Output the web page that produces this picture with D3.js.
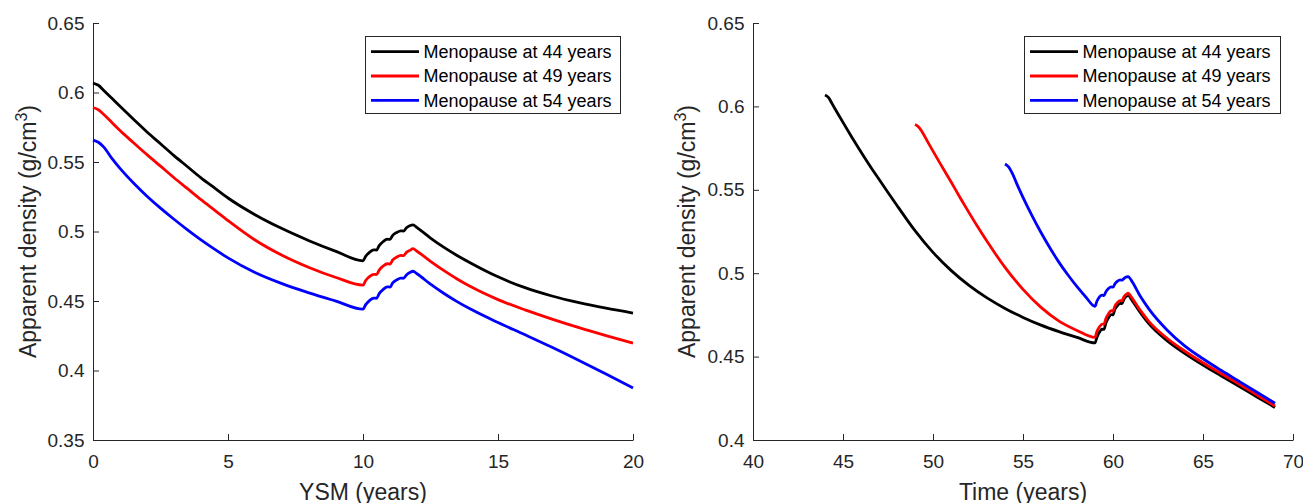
<!DOCTYPE html>
<meta charset="utf-8">
<style>
  body { margin: 0; background: #fff; }
  svg text { font-family: "Liberation Sans", Arial, sans-serif; }
  .axis path, .axis line { stroke: #262626; stroke-width: 1; }
  .axis text { font-size: 19px; fill: #262626; }
  .label { font-size: 23px; fill: #262626; }
  .legend text { font-size: 18px; fill: #000; }
</style>
<body>
<div id="chart"></div>
<script src="https://d3js.org/d3.v7.min.js"></script>
<script>
// ---- left panel: density vs years since menopause ----
const ysm = [0, 0.2, 0.4, 0.7, 1, 1.5, 2, 2.5, 3, 3.5, 4, 4.5, 5, 6, 7, 8, 9, 10,
  10.1, 10.25, 10.4, 10.5, 10.6, 10.75, 10.9, 11, 11.1, 11.25, 11.4, 11.5, 11.6, 11.75, 11.85, 12,
  12.5, 13, 13.5, 14, 15, 16, 17, 18, 19, 20]
const ysm44 = [0.6068, 0.6052, 0.6015, 0.5958, 0.5901, 0.5808, 0.5716, 0.5631, 0.5546, 0.5466, 0.5386, 0.5313, 0.5241, 0.5121, 0.5021, 0.4934, 0.4857, 0.4789,
  0.4822, 0.4852, 0.4868, 0.4866, 0.4898, 0.4928, 0.4945, 0.4943, 0.4972, 0.4993, 0.5005, 0.5003, 0.5025, 0.5043, 0.5048, 0.5028,
  0.4953, 0.4886, 0.4826, 0.4772, 0.4674, 0.4596, 0.4536, 0.4488, 0.4448, 0.4413]
const ysm49 = [0.5892, 0.5876, 0.5842, 0.5784, 0.5726, 0.5639, 0.5553, 0.547, 0.5387, 0.5308, 0.5229, 0.5154, 0.5079, 0.4939, 0.4829, 0.4741, 0.4669, 0.4614,
  0.4647, 0.4677, 0.4692, 0.469, 0.4722, 0.4752, 0.4768, 0.4766, 0.4795, 0.4816, 0.4828, 0.4826, 0.4848, 0.4866, 0.4877, 0.4858,
  0.4785, 0.4718, 0.4657, 0.4602, 0.451, 0.4436, 0.437, 0.4308, 0.4251, 0.4197]
const ysm54 = [0.5658, 0.5642, 0.5607, 0.5526, 0.5454, 0.5349, 0.5254, 0.5168, 0.5088, 0.5012, 0.494, 0.4873, 0.481, 0.4705, 0.4625, 0.4559, 0.4499, 0.4441,
  0.4474, 0.4505, 0.4521, 0.4519, 0.4553, 0.4584, 0.4602, 0.46, 0.463, 0.4652, 0.4665, 0.4663, 0.4686, 0.4706, 0.4714, 0.4696,
  0.4621, 0.4554, 0.4494, 0.444, 0.4345, 0.4257, 0.4167, 0.4072, 0.3974, 0.3874]

// ---- right panel: density vs age ----
const time44 = [44, 44.2, 44.4, 44.7, 45, 45.5, 46, 46.5, 47, 47.5, 48, 48.5, 49, 50, 51, 52, 53, 54, 55, 56, 57, 58, 59,
  59.1, 59.25, 59.4, 59.5, 59.6, 59.75, 59.9, 60, 60.1, 60.25, 60.4, 60.5, 60.6, 60.75, 60.85, 61,
  61.5, 62, 63, 64, 65, 66, 67, 68, 69]
const dens44 = [0.6068, 0.6052, 0.6015, 0.5959, 0.5904, 0.5814, 0.5727, 0.5643, 0.5563, 0.5484, 0.5406, 0.5329, 0.5255, 0.5125, 0.5017, 0.4927, 0.4852, 0.4789, 0.4735, 0.4689, 0.465, 0.4615, 0.4582,
  0.4613, 0.4647, 0.4664, 0.4663, 0.4699, 0.4733, 0.4752, 0.475, 0.4782, 0.4806, 0.4819, 0.4817, 0.4842, 0.4862, 0.4868, 0.4846,
  0.4766, 0.4696, 0.4596, 0.4518, 0.4449, 0.4385, 0.4322, 0.4258, 0.4195]
const time49 = [49, 49.2, 49.4, 49.7, 50, 50.5, 51, 51.5, 52, 52.5, 53, 53.5, 54, 55, 56, 57, 58, 59,
  59.1, 59.25, 59.4, 59.5, 59.6, 59.75, 59.9, 60, 60.1, 60.25, 60.4, 60.5, 60.6, 60.75, 60.85, 61,
  61.5, 62, 63, 64, 65, 66, 67, 68, 69]
const dens49 = [0.5891, 0.5877, 0.5847, 0.5789, 0.5732, 0.5639, 0.5548, 0.5454, 0.5363, 0.5275, 0.5191, 0.5111, 0.5035, 0.4903, 0.4795, 0.4713, 0.4657, 0.4615,
  0.4649, 0.4679, 0.4695, 0.4694, 0.4727, 0.4757, 0.4775, 0.4773, 0.4802, 0.4824, 0.4836, 0.4834, 0.4857, 0.4875, 0.488, 0.486,
  0.478, 0.471, 0.461, 0.4532, 0.4463, 0.4399, 0.4336, 0.427, 0.4204]
const time54 = [54, 54.2, 54.4, 54.7, 55, 55.5, 56, 56.5, 57, 57.5, 58, 58.5, 59,
  59.1, 59.25, 59.4, 59.5, 59.6, 59.75, 59.9, 60, 60.1, 60.25, 60.4, 60.5, 60.6, 60.75, 60.85, 61,
  61.5, 62, 63, 64, 65, 66, 67, 68, 69]
const dens54 = [0.5655, 0.5637, 0.56, 0.5525, 0.5455, 0.5345, 0.5244, 0.5151, 0.5065, 0.4989, 0.4919, 0.4856, 0.4801,
  0.483, 0.4858, 0.4868, 0.4866, 0.4888, 0.4908, 0.4918, 0.4916, 0.4935, 0.4952, 0.496, 0.4958, 0.4968, 0.4978, 0.498, 0.496,
  0.4865, 0.4785, 0.466, 0.4563, 0.4487, 0.4418, 0.4352, 0.4286, 0.422]

const names = ['Menopause at 44 years', 'Menopause at 49 years', 'Menopause at 54 years']
const colors = ['#000000', '#ff0000', '#0000ff']

const ysmTicks = [0, 5, 10, 15, 20]
const timeTicks = [40, 45, 50, 55, 60, 65, 70]
const leftDensTicks = [0.35, 0.4, 0.45, 0.5, 0.55, 0.6, 0.65]
const rightDensTicks = [0.4, 0.45, 0.5, 0.55, 0.6, 0.65]

const svg = d3.select('#chart')
  .append('svg')
  .attr('width', 1303)
  .attr('height', 503)

function panel(opt) {
  const width = 540, height = 417
  const g = svg.append('g').attr('transform', `translate(${opt.left}, 23)`)

  const x = d3.scaleLinear().domain(opt.xDomain).range([0, width])
  const y = d3.scaleLinear().domain(opt.yDomain).range([height, 0])

  g.append('g')
    .attr('class', 'axis')
    .attr('transform', `translate(0, ${height})`)
    .call(d3.axisBottom(x).tickValues(opt.xTicks).tickSize(-6).tickSizeOuter(0).tickPadding(14.5).tickFormat(d => String(d)))

  g.append('g')
    .attr('class', 'axis')
    .call(d3.axisLeft(y).tickValues(opt.yTicks).tickSize(-6).tickSizeOuter(0).tickPadding(8.5).tickFormat(d => String(d)))

  const line = d3.line()
    .x(d => x(d[0]))
    .y(d => y(d[1]))
    .curve(d3.curveMonotoneX)

  opt.series.forEach((s, i) => {
    g.append('path')
      .datum(d3.zip(s.x, s.y))
      .attr('fill', 'none')
      .attr('stroke', colors[i])
      .attr('stroke-width', 2.8)
      .attr('stroke-linejoin', 'round')
      .attr('d', line)
  })

  // axis titles
  g.append('text')
    .attr('class', 'label')
    .attr('text-anchor', 'middle')
    .attr('x', width / 2)
    .attr('y', 477)
    .text(opt.xLabel)

  const yl = g.append('text')
    .attr('class', 'label')
    .attr('text-anchor', 'middle')
    .attr('transform', `translate(${opt.yLabelX}, ${height / 2}) rotate(-90)`)
  yl.append('tspan').text('Apparent density (g/cm')
  yl.append('tspan').attr('dy', -9).style('font-size', '16px').text('3')
  yl.append('tspan').attr('dy', 9).text(')')

  // legend
  const lg = g.append('g')
    .attr('class', 'legend')
    .attr('transform', `translate(${width - 12.5 - opt.legendW}, 13.5)`)
  lg.append('rect')
    .attr('width', opt.legendW)
    .attr('height', 77)
    .attr('fill', '#fff')
    .attr('stroke', '#262626')
    .attr('stroke-width', 1)
  names.forEach((n, i) => {
    const yy = 15.2 + i * 24.3
    lg.append('line')
      .attr('x1', 5.5).attr('x2', 53.5)
      .attr('y1', yy).attr('y2', yy)
      .attr('stroke', colors[i])
      .attr('stroke-width', 2.8)
    lg.append('text')
      .attr('x', 58)
      .attr('y', yy)
      .attr('dy', '0.35em')
      .text(n)
  })
}

panel({
  left: 93,
  xDomain: [0, 20], yDomain: [0.35, 0.65],
  xTicks: ysmTicks, yTicks: leftDensTicks,
  xLabel: 'YSM (years)', yLabelX: -57.5, legendW: 255,
  series: [{ x: ysm, y: ysm44 }, { x: ysm, y: ysm49 }, { x: ysm, y: ysm54 }]
})

panel({
  left: 753,
  xDomain: [40, 70], yDomain: [0.4, 0.65],
  xTicks: timeTicks, yTicks: rightDensTicks,
  xLabel: 'Time (years)', yLabelX: -58, legendW: 256,
  series: [{ x: time44, y: dens44 }, { x: time49, y: dens49 }, { x: time54, y: dens54 }]
})
</script>
</body>
</html>
